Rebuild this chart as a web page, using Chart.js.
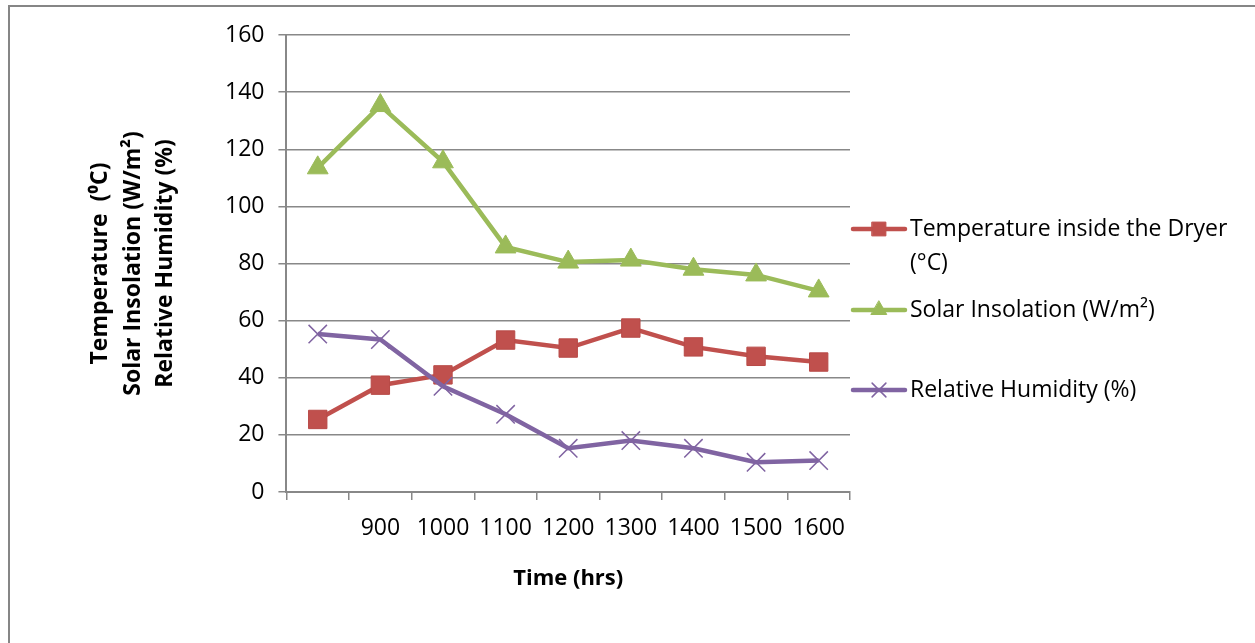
<!DOCTYPE html>
<html lang="en">

<head>
    <meta charset="UTF-8" />
    <title>Dryer Readings</title>
    <script src="https://cdn.jsdelivr.net/npm/chart.js"></script>
    <style>
        body { margin: 0; background: #fff; overflow: hidden; }
        #frame {
            position: absolute; left: 8px; top: 5px; width: 1300px; height: 700px;
            border-left: 2px solid #868686; border-top: 2px solid #868686;
        }
        #wrap { position: absolute; left: 0; top: 0; width: 1255px; height: 643px; }
    </style>
</head>

<body>
    <div id="frame"></div>
    <div id="wrap"><canvas id="dryerChart" width="1255" height="643"></canvas></div>

    <script>
        const timeLabels = ['', '900', '1000', '1100', '1200', '1300', '1400', '1500', '1600'];
        const temperature = [25.4, 37.4, 41, 53.2, 50.4, 57.4, 50.8, 47.5, 45.5];
        const insolation = [113.5, 135.3, 115.6, 85.8, 80.5, 81.2, 78, 76, 70.4];
        const humidity = [55.3, 53.4, 37, 27.2, 15.3, 18, 15.3, 10.4, 11];

        const fontName = "'Open Sans', sans-serif";
        const gridColor = '#888888';

        // legend drawn by hand so the first label can wrap like the original
        const sideLegend = {
            id: 'sideLegend',
            afterDraw(chart) {
                const ctx = chart.ctx;
                const x0 = chart.chartArea.right + 1;
                const top = chart.chartArea.top;
                const rows = [
                    { ds: 0, text: ['Temperature inside the Dryer', '(°C)'], y: top + 194 },
                    { ds: 1, text: ['Solar Insolation (W/m²)'], y: top + 275 },
                    { ds: 2, text: ['Relative Humidity (%)'], y: top + 355 }
                ];
                ctx.save();
                rows.forEach(r => {
                    const ds = chart.data.datasets[r.ds];
                    ctx.strokeStyle = ds.borderColor;
                    ctx.lineWidth = 4.5;
                    ctx.lineCap = 'round';
                    ctx.beginPath();
                    ctx.moveTo(x0 + 2, r.y);
                    ctx.lineTo(x0 + 54, r.y);
                    ctx.stroke();
                    ctx.fillStyle = ds.backgroundColor;
                    ctx.strokeStyle = ds.borderColor;
                    ctx.lineWidth = ds.pointBorderWidth;
                    Chart.helpers.drawPoint(ctx, {
                        pointStyle: ds.pointStyle,
                        radius: ds.pointRadius * 0.75,
                        borderWidth: ds.pointBorderWidth
                    }, x0 + 28, r.y);
                    ctx.fillStyle = '#000';
                    ctx.font = '23px ' + fontName;
                    ctx.textBaseline = 'middle';
                    r.text.forEach((t, i) => ctx.fillText(t, x0 + 59, r.y + i * 34));
                });
                ctx.restore();
            }
        };

        const chart = new Chart(document.getElementById('dryerChart'), {
            type: 'line',
            data: {
                labels: timeLabels,
                datasets: [{
                    label: 'Temperature inside the Dryer (°C)',
                    data: temperature,
                    borderColor: '#C0504D',
                    backgroundColor: '#C0504D',
                    borderWidth: 4.5,
                    pointStyle: 'rect',
                    pointRadius: 13,
                    pointBorderWidth: 1,
                    pointBorderColor: '#B84A47',
                    tension: 0,
                    order: 1
                }, {
                    label: 'Solar Insolation (W/m²)',
                    data: insolation,
                    borderColor: '#9BBB59',
                    backgroundColor: '#9BBB59',
                    borderWidth: 4.5,
                    pointStyle: 'triangle',
                    pointRadius: 12,
                    pointBorderWidth: 1,
                    tension: 0,
                    order: 2
                }, {
                    label: 'Relative Humidity (%)',
                    data: humidity,
                    borderColor: '#8064A2',
                    backgroundColor: '#8064A2',
                    borderWidth: 4.5,
                    pointStyle: 'crossRot',
                    pointRadius: 13,
                    pointBorderWidth: 1.5,
                    tension: 0,
                    order: 0
                }]
            },
            options: {
                responsive: false,
                animation: false,
                layout: { padding: { left: 80, right: 405, top: 35, bottom: 47 } },
                plugins: {
                    legend: { display: false },
                    tooltip: { enabled: false }
                },
                scales: {
                    x: {
                        offset: true,
                        grid: {
                            offset: true,
                            drawOnChartArea: false,
                            drawTicks: true,
                            tickLength: 8,
                            color: gridColor,
                            lineWidth: 1.5
                        },
                        border: { color: gridColor, width: 2 },
                        ticks: {
                            color: '#000',
                            font: { family: fontName, size: 23 },
                            padding: 15,
                            maxRotation: 0,
                            autoSkip: false
                        },
                        title: {
                            display: true,
                            text: 'Time (hrs)',
                            color: '#000',
                            font: { family: fontName, size: 22, weight: 'bold' },
                            padding: { top: 8 }
                        }
                    },
                    y: {
                        min: 0,
                        max: 160,
                        ticks: {
                            stepSize: 20,
                            color: '#000',
                            font: { family: fontName, size: 23 },
                            padding: 14
                        },
                        grid: {
                            color: gridColor,
                            lineWidth: 1.5,
                            tickLength: 8
                        },
                        border: { color: gridColor, width: 2 },
                        title: {
                            display: true,
                            text: ['Temperature  (⁰C)', 'Solar Insolation (W/m²)', 'Relative Humidity (%)'],
                            color: '#000',
                            font: { family: fontName, size: 23, weight: 'bold', lineHeight: 1.42 },
                            padding: { bottom: 29 }
                        }
                    }
                }
            },
            plugins: [sideLegend]
        });
    </script>
</body>

</html>
